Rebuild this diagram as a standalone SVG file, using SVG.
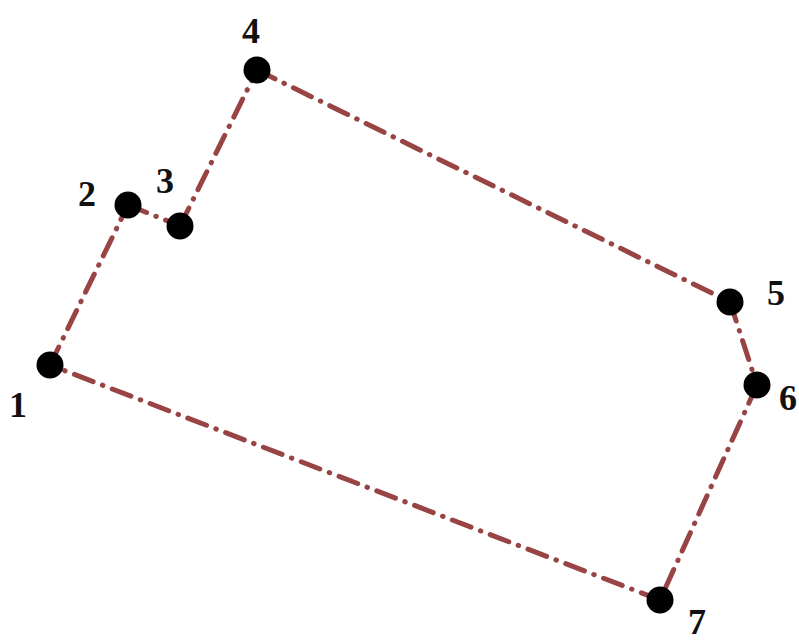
<svg xmlns="http://www.w3.org/2000/svg" width="799" height="643" viewBox="0 0 799 643">
<style>
.edge{stroke:#984444;stroke-width:5;stroke-linecap:round;fill:none;stroke-dasharray:20 10 0.5 10;}
.pt{fill:#000;}
.lbl{font-family:"Liberation Serif","Times New Roman",serif;font-weight:bold;font-size:36px;fill:#111;text-anchor:middle;}
</style>
<rect width="799" height="643" fill="#fff"/>
<g id="connectors">
<line class="edge" x1="50" y1="365" x2="128" y2="205"/>
<line class="edge" x1="128" y1="205" x2="180" y2="226"/>
<line class="edge" x1="180" y1="226" x2="257" y2="70"/>
<line class="edge" x1="257" y1="70" x2="730" y2="302"/>
<line class="edge" x1="730" y1="302" x2="757" y2="385"/>
<line class="edge" x1="757" y1="385" x2="660" y2="600"/>
<line class="edge" x1="660" y1="600" x2="50" y2="365"/>
</g>
<g id="n1"><circle class="pt" cx="50" cy="365" r="13.5"/><text class="lbl" x="18" y="417">1</text></g>
<g id="n2"><circle class="pt" cx="128" cy="205" r="13.5"/><text class="lbl" x="87" y="206">2</text></g>
<g id="n3"><circle class="pt" cx="180" cy="226" r="13.5"/><text class="lbl" x="165" y="193">3</text></g>
<g id="n4"><circle class="pt" cx="257" cy="70" r="13.5"/><text class="lbl" x="251" y="43">4</text></g>
<g id="n5"><circle class="pt" cx="730" cy="302" r="13.5"/><text class="lbl" x="776" y="305">5</text></g>
<g id="n6"><circle class="pt" cx="757" cy="385" r="13.5"/><text class="lbl" x="788" y="410">6</text></g>
<g id="n7"><circle class="pt" cx="660" cy="600" r="13.5"/><text class="lbl" x="697" y="634">7</text></g>
</svg>
